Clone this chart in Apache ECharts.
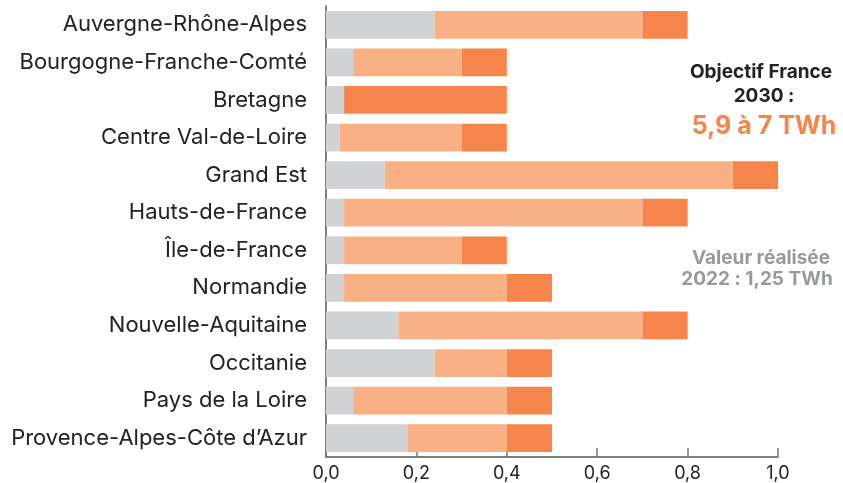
<!DOCTYPE html>
<html>
<head>
<meta charset="utf-8">
<script src="https://cdn.jsdelivr.net/npm/echarts@6/dist/echarts.min.js"></script>
<style>
html, body { margin: 0; padding: 0; background: #fff; }
#chart { width: 843px; height: 483px; }
</style>
</head>
<body>
<div id="chart"></div>
<script>
// régions, de haut en bas
var regions = ['Auvergne-Rhône-Alpes', 'Bourgogne-Franche-Comté', 'Bretagne', 'Centre Val-de-Loire',
    'Grand Est', 'Hauts-de-France', 'Île-de-France', 'Normandie', 'Nouvelle-Aquitaine',
    'Occitanie', 'Pays de la Loire', 'Provence-Alpes-Côte d’Azur'];
// valeur réalisée 2022 (TWh)
var realise = [0.24, 0.06, 0.04, 0.03, 0.13, 0.04, 0.04, 0.04, 0.16, 0.24, 0.06, 0.18];
// objectif 2030 bas / haut (TWh)
var objBas = [0.70, 0.30, 0.04, 0.30, 0.90, 0.70, 0.30, 0.40, 0.70, 0.40, 0.40, 0.40];
var objHaut = [0.80, 0.40, 0.40, 0.40, 1.00, 0.80, 0.40, 0.50, 0.80, 0.50, 0.50, 0.50];

var partBas = objBas.map(function (v, i) { return +(v - realise[i]).toFixed(3); });
var partHaut = objHaut.map(function (v, i) { return +(v - objBas[i]).toFixed(3); });

var myChart = echarts.init(document.getElementById('chart'));
var option = {
    animation: false,
    textStyle: { fontFamily: 'Inter' },
    grid: { left: 326, right: 65, top: 6, bottom: 26, containLabel: false },
    xAxis: {
        type: 'value',
        min: 0,
        max: 1,
        interval: 0.2,
        splitLine: { show: false },
        axisLine: { show: true, lineStyle: { color: '#555', width: 1.5 } },
        axisTick: { show: true, inside: true, length: 9, lineStyle: { color: '#777', width: 1.5 } },
        axisLabel: {
            color: '#222',
            fontSize: 18,
            fontFamily: 'Inter',
            margin: 8,
            formatter: function (v) { return v.toFixed(1).replace('.', ','); }
        }
    },
    yAxis: {
        type: 'category',
        inverse: true,
        data: regions,
        axisLine: { show: true, lineStyle: { color: '#555', width: 1.5 } },
        axisTick: { show: false },
        axisLabel: { color: '#222', fontSize: 22, fontFamily: 'Inter', margin: 19 }
    },
    series: [
        {
            name: 'Réalisé 2022', type: 'bar', stack: 'a', barCategoryGap: '26%',
            itemStyle: { color: '#D1D2D3' }, data: realise
        },
        {
            name: 'Objectif bas', type: 'bar', stack: 'a',
            itemStyle: { color: '#F9B085' }, data: partBas
        },
        {
            name: 'Objectif haut', type: 'bar', stack: 'a',
            itemStyle: { color: '#F5854A' }, data: partHaut
        }
    ],
    graphic: [
        { type: 'text', style: { x: 761, y: 72, text: 'Objectif France', font: 'bold 19px Inter', fill: '#222', align: 'center', verticalAlign: 'middle' } },
        { type: 'text', style: { x: 764, y: 96, text: '2030 :', font: 'bold 19px Inter', fill: '#222', align: 'center', verticalAlign: 'middle' } },
        { type: 'text', style: { x: 764, y: 126, text: '5,9 à 7 TWh', font: 'bold 25px Inter', fill: '#F5854A', align: 'center', verticalAlign: 'middle' } },
        { type: 'text', style: { x: 761, y: 258, text: 'Valeur réalisée', font: 'bold 19px Inter', fill: '#98999B', align: 'center', verticalAlign: 'middle' } },
        { type: 'text', style: { x: 757, y: 279, text: '2022 : 1,25 TWh', font: 'bold 19px Inter', fill: '#98999B', align: 'center', verticalAlign: 'middle' } }
    ]
};
myChart.setOption(option);
</script>
</body>
</html>
